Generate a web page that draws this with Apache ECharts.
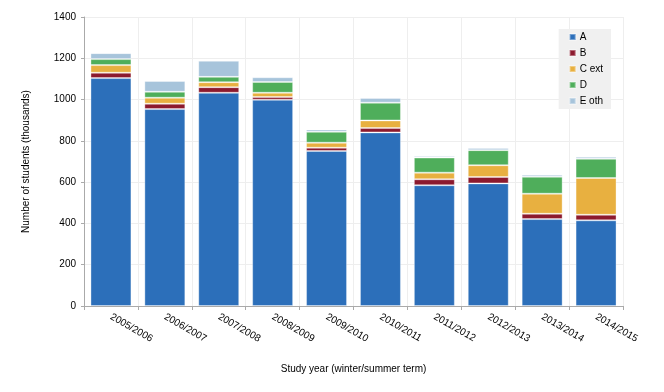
<!DOCTYPE html>
<html>
<head>
<meta charset="utf-8">
<script src="https://cdn.jsdelivr.net/npm/echarts@6/dist/echarts.min.js"></script>
<style>html,body{margin:0;padding:0;background:#fff}#c{width:664px;height:392px}</style>
</head>
<body>
<div id="c"></div>
<script>
const categories = ['2005/2006','2006/2007','2007/2008','2008/2009','2009/2010','2010/2011','2011/2012','2012/2013','2013/2014','2014/2015'];
const seriesNames = ['A', 'B', 'C ext', 'D', 'E oth'];
const seriesA = [1104, 954, 1033, 999, 751, 841, 585, 594, 421, 415];
const seriesB = [26, 26, 27, 13, 16, 21, 29, 31, 26, 27];
const seriesC = [37, 29, 24, 21, 24, 37, 32, 57, 97, 178];
const seriesD = [29, 29, 26, 52, 53, 86, 73, 73, 82, 93];
const seriesE = [29, 52, 78, 23, 11, 23, 8, 11, 10, 10];
const yTicks = [0, 200, 400, 600, 800, 1000, 1200, 1400];
const colors = ['#2c6fba', '#8c1a2e', '#e8b040', '#4fae5b', '#a7c4db'];
const yName = 'Number of students (thousands)';
const xName = 'Study year (winter/summer term)';

const values = [seriesA, seriesB, seriesC, seriesD, seriesE];
const chart = echarts.init(document.getElementById('c'));
chart.setOption({
  animation: false,
  color: colors,
  textStyle: {fontFamily: 'Liberation Sans, Arial, sans-serif'},
  grid: {left: 84, right: 41, top: 17, bottom: 86, containLabel: false},
  legend: {
    orient: 'vertical', right: 53, top: 29,
    backgroundColor: '#f0f0f0',
    padding: [3, 8, 3, 10],
    itemWidth: 6, itemHeight: 6, itemGap: 6,
    icon: 'rect',
    textStyle: {fontSize: 10, color: '#000', padding: [0, 0, 0, -1]},
    data: seriesNames
  },
  xAxis: {
    type: 'category', data: categories,
    name: xName, nameLocation: 'middle', nameGap: 58,
    nameTextStyle: {fontSize: 10, color: '#000'},
    axisLine: {lineStyle: {color: '#aaa'}},
    axisTick: {show: true, length: 4, lineStyle: {color: '#aaa'}},
    axisLabel: {rotate: -30, fontSize: 10, color: '#000', margin: 10, interval: 0},
    splitLine: {show: true, lineStyle: {color: '#eeeeee'}}
  },
  yAxis: {
    type: 'value', min: yTicks[0], max: yTicks[yTicks.length - 1], interval: yTicks[1] - yTicks[0],
    name: yName, nameLocation: 'middle', nameGap: 53,
    nameTextStyle: {fontSize: 10, color: '#000'},
    axisLine: {show: true, lineStyle: {color: '#aaa'}},
    axisTick: {show: true, length: 3, lineStyle: {color: '#aaa'}},
    axisLabel: {fontSize: 10, color: '#000', margin: 8, formatter: v => String(v)},
    splitLine: {show: true, lineStyle: {color: '#eeeeee'}}
  },
  series: seriesNames.map((n, i) => ({
    name: n, type: 'bar', stack: 'total', data: values[i],
    barCategoryGap: '24%',
    itemStyle: {borderColor: 'rgba(255,255,255,0.35)', borderWidth: 1}
  }))
});
</script>
</body>
</html>
